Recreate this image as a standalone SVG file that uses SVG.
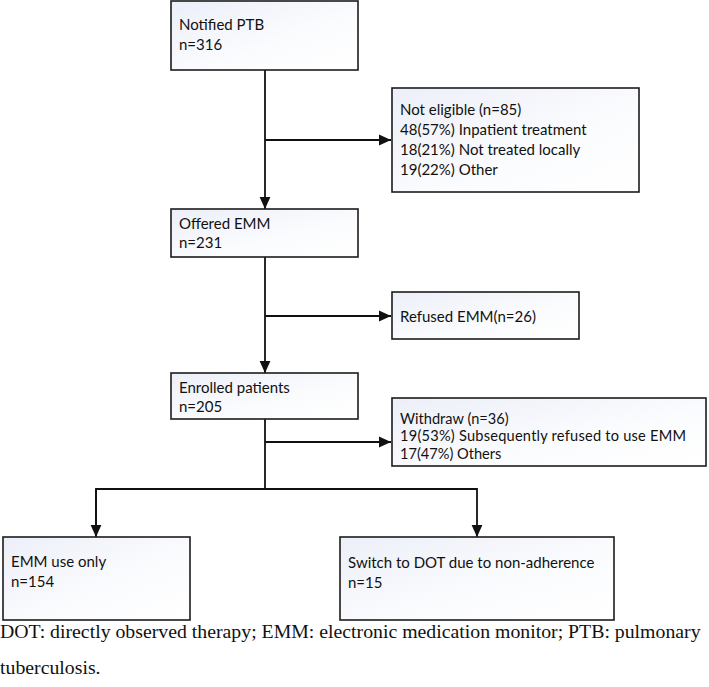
<svg xmlns="http://www.w3.org/2000/svg" width="709" height="687" viewBox="0 0 709 687">
<style>
.box{fill:url(#g);stroke:#1c1c1c;stroke-width:1.6}
.t{font-family:Lato,"Open Sans",sans-serif;font-size:15px;fill:#111}
.tw{font-family:Lato,"Open Sans",sans-serif;font-size:14.6px;fill:#111}
.c{stroke:#111;stroke-width:1.8;fill:none}
.cap{font-family:"Liberation Serif","Times New Roman",serif;font-size:19.8px;fill:#111}
</style>
<defs>
<linearGradient id="g" x1="0" y1="0" x2="1" y2="1">
<stop offset="0" stop-color="#eceff8"/>
<stop offset="0.6" stop-color="#fbfcfe"/>
<stop offset="1" stop-color="#ffffff"/>
</linearGradient>
<marker id="a" markerUnits="userSpaceOnUse" markerWidth="12" markerHeight="12" viewBox="0 0 10 10" refX="10" refY="5" orient="auto">
<path d="M0,0.5 L10,5 L0,9.5 Z" fill="#111"/>
</marker>
</defs>
<rect width="709" height="687" fill="#fff"/>
<g id="connectors">
<line class="c" x1="265" y1="70" x2="265" y2="209" marker-end="url(#a)"/>
<line class="c" x1="265" y1="140" x2="391" y2="140" marker-end="url(#a)"/>
<line class="c" x1="265" y1="257" x2="265" y2="373" marker-end="url(#a)"/>
<line class="c" x1="265" y1="316" x2="391" y2="316" marker-end="url(#a)"/>
<line class="c" x1="265" y1="419" x2="265" y2="489"/>
<line class="c" x1="265" y1="442" x2="391" y2="442" marker-end="url(#a)"/>
<polyline class="c" points="96,537 96,489 477,489 477,537" marker-end="url(#a)"/>
<line class="c" x1="96" y1="489" x2="96" y2="537" marker-end="url(#a)"/>
</g>
<g id="notified">
<rect class="box" x="171" y="1" width="187" height="69"/>
<text class="t" x="179" y="30">Notified PTB</text>
<text class="t" x="179" y="50">n=316</text>
</g>
<g id="noteligible">
<rect class="box" x="392" y="88" width="247" height="104"/>
<text class="t" x="400" y="115">Not eligible (n=85)</text>
<text class="t" x="400" y="135">48(57%) Inpatient treatment</text>
<text class="t" x="400" y="155">18(21%) Not treated locally</text>
<text class="t" x="400" y="175">19(22%) Other</text>
</g>
<g id="offered">
<rect class="box" x="171" y="209" width="187" height="48"/>
<text class="t" x="179" y="229">Offered EMM</text>
<text class="t" x="179" y="248">n=231</text>
</g>
<g id="refused">
<rect class="box" x="392" y="292" width="187" height="47"/>
<text class="t" x="400" y="322">Refused EMM(n=26)</text>
</g>
<g id="enrolled">
<rect class="box" x="171" y="373" width="187" height="46"/>
<text class="t" x="179" y="393">Enrolled patients</text>
<text class="t" x="179" y="412">n=205</text>
</g>
<g id="withdraw">
<rect class="box" x="392" y="398" width="314" height="68"/>
<text class="tw" x="400" y="423.5">Withdraw (n=36)</text>
<text class="tw" x="400" y="441" textLength="286" lengthAdjust="spacing">19(53%) Subsequently refused to use EMM</text>
<text class="tw" x="400" y="458.5">17(47%) Others</text>
</g>
<g id="emmonly">
<rect class="box" x="3" y="537" width="187" height="83"/>
<text class="t" x="11" y="567">EMM use only</text>
<text class="t" x="11" y="587">n=154</text>
</g>
<g id="switch">
<rect class="box" x="340" y="537" width="274" height="83"/>
<text class="t" x="348" y="568">Switch to DOT due to non-adherence</text>
<text class="t" x="348" y="588">n=15</text>
</g>
<g id="caption">
<text class="cap" x="0" y="638">DOT: directly observed therapy; EMM: electronic medication monitor; PTB: pulmonary</text>
<text class="cap" x="0" y="674">tuberculosis.</text>
</g>
</svg>
